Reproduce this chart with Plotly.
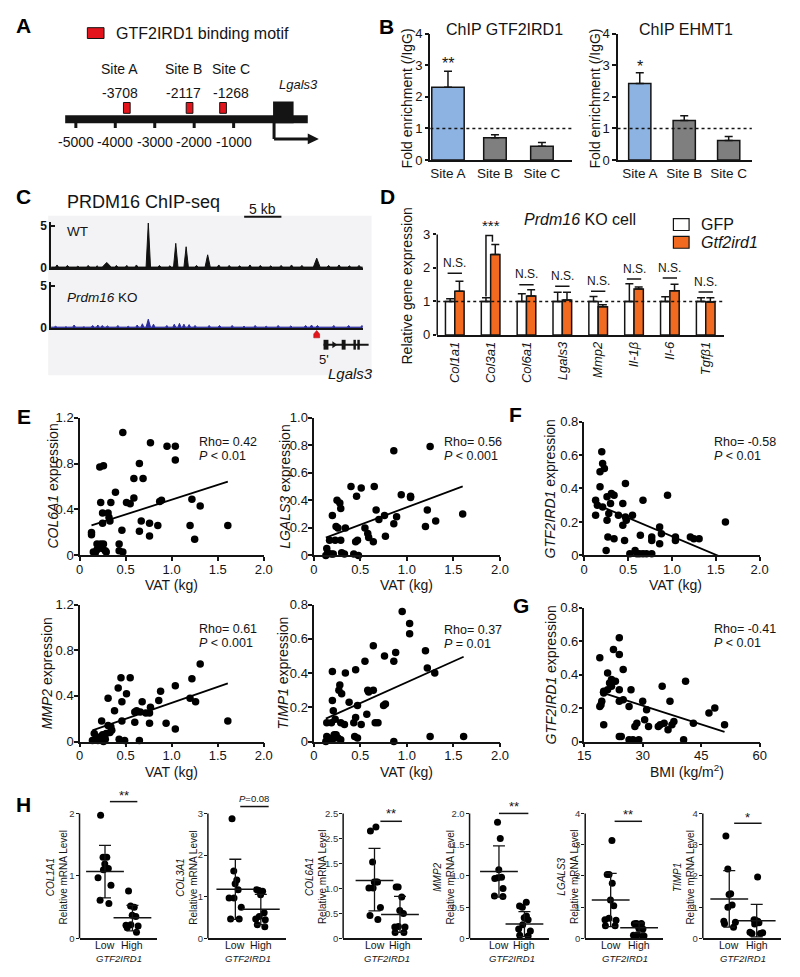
import copy
import numpy as np
import plotly.graph_objects as go

W, H = 800, 977
FONT = "Arial, Liberation Sans, sans-serif"
INK = "#141414"
RED = "#e3141c"
ORANGE = "#f26a1f"
BLUE_BAR = "#8db3e2"
GRAY_BAR = "#7f7f7f"
TRACK_BLUE = "#2c2ca0"

# ======================= DATA =======================
# A: Lgals3 promoter map
promoter_ticks = [-5000, -4000, -3000, -2000, -1000]
site_labels = ["Site A", "Site B", "Site C"]
site_positions = [-3708, -2117, -1268]

# B: ChIP-qPCR
chip_sites = ["Site A", "Site B", "Site C"]
gtf2ird1_chip = [2.30, 0.71, 0.44]
gtf2ird1_chip_err = [0.51, 0.09, 0.12]
ehmt1_chip = [2.42, 1.25, 0.62]
ehmt1_chip_err = [0.34, 0.15, 0.13]

# C: PRDM16 ChIP-seq tracks (peak centre kb, height, half width kb)
wt_peak_kb = [0.8, 2.2, 3.6, 5.0, 6.2, 7.5, 8.8, 10.2, 11.5, 13.1, 14.6, 16.0, 16.8, 18.2, 19.6,
              21.1, 22.6, 24.0, 25.4, 26.8, 28.2, 29.6, 31.0, 32.4, 33.8, 35.8, 37.4, 38.8, 40.2, 41.5]
wt_peak_h = [0.35, 0.3, 0.2, 0.3, 0.25, 0.65, 0.3, 0.3, 0.35, 5.3, 0.3, 0.25, 2.9, 2.5, 0.3,
             1.55, 0.35, 0.3, 0.25, 0.35, 0.3, 0.25, 0.3, 0.35, 0.3, 1.15, 0.3, 0.35, 0.25, 0.3]
wt_peak_w = [0.2, 0.2, 0.2, 0.2, 0.2, 0.6, 0.2, 0.2, 0.2, 0.3, 0.2, 0.2, 0.3, 0.3, 0.2,
             0.35, 0.2, 0.2, 0.2, 0.2, 0.2, 0.2, 0.2, 0.2, 0.2, 0.45, 0.2, 0.2, 0.2, 0.2]
ko_peak_kb = [0.6, 2.0, 3.1, 4.4, 5.6, 6.3, 6.9, 7.6, 9.0, 10.4, 11.6, 12.3, 13.1, 13.8, 15.6, 16.6,
              17.3, 17.9, 18.6, 19.4, 21.3, 22.7, 24.4, 26.0, 27.5, 29.0, 30.6, 32.3, 34.3, 35.1,
              35.9, 38.1, 40.1, 41.9]
ko_peak_h = [0.2, 0.15, 0.35, 0.15, 0.3, 0.35, 0.3, 0.25, 0.3, 0.2, 0.35, 0.5, 1.05, 0.45, 0.3, 0.45,
             0.55, 0.45, 0.4, 0.3, 0.3, 0.3, 0.3, 0.2, 0.3, 0.2, 0.3, 0.25, 0.3, 0.35,
             0.3, 0.3, 0.3, 0.3]
ko_peak_w = [0.2] * 12 + [0.3] + [0.2] * 21
track_kb = 42

# D: Prdm16 KO cells
genes_d = ["Col1a1", "Col3a1", "Col6a1", "Lgals3", "Mmp2", "Il-1β", "Il-6", "Tgfβ1"]
gfp_expr = [1.0, 1.0, 1.0, 1.0, 1.0, 1.0, 1.0, 1.0]
gfp_err = [0.08, 0.11, 0.23, 0.27, 0.15, 0.53, 0.14, 0.11]
gtf_expr = [1.30, 2.40, 1.16, 1.04, 0.84, 1.37, 1.32, 0.98]
gtf_err = [0.30, 0.30, 0.19, 0.23, 0.06, 0.06, 0.19, 0.13]
ns_level = [1.84, None, 1.50, 1.45, 1.30, 1.67, 1.70, 1.28]

# E: expression vs VAT
col6a1_vat = [0.47, 0.77, 0.95, 1.04, 1.04, 0.65, 0.22, 0.26, 0.59, 0.69, 0.39, 0.59, 0.51, 0.55, 0.87,
              0.89, 1.22, 1.31, 0.23, 0.34, 0.25, 0.31, 0.32, 0.33, 0.25, 0.67, 0.76, 0.85, 1.20, 1.61,
              0.46, 0.65, 0.76, 1.25, 0.13, 0.13, 0.19, 0.23, 0.26, 0.43, 0.15, 0.19, 0.22, 0.25, 0.28,
              0.29, 0.43, 0.47, 0.17]
col6a1_expr = [1.07, 0.98, 0.95, 0.95, 0.83, 0.80, 0.77, 0.78, 0.67, 0.67, 0.55, 0.50, 0.46, 0.45, 0.47,
               0.48, 0.49, 0.43, 0.46, 0.46, 0.37, 0.37, 0.33, 0.30, 0.28, 0.30, 0.28, 0.26, 0.26, 0.26,
               0.22, 0.21, 0.17, 0.14, 0.20, 0.18, 0.10, 0.10, 0.10, 0.10, 0.03, 0.05, 0.07, 0.06, 0.04,
               0.03, 0.04, 0.03, 0.02]
lgals3_vat = [0.86, 1.25, 0.40, 0.51, 0.65, 0.46, 0.94, 1.04, 1.04, 0.25, 0.28, 0.29, 0.20, 0.67, 1.22,
              1.60, 0.76, 0.89, 0.70, 0.86, 1.31, 1.20, 0.24, 0.26, 0.34, 0.55, 0.58, 0.59, 0.77, 0.64,
              0.17, 0.23, 0.29, 0.45, 0.47, 0.14, 0.15, 0.19, 0.21, 0.30, 0.33, 0.43, 0.48, 0.13]
lgals3_expr = [0.76, 0.79, 0.50, 0.49, 0.50, 0.43, 0.44, 0.43, 0.42, 0.40, 0.38, 0.34, 0.29, 0.33, 0.33,
               0.30, 0.29, 0.28, 0.26, 0.23, 0.25, 0.21, 0.21, 0.20, 0.20, 0.20, 0.16, 0.13, 0.14, 0.10,
               0.11, 0.11, 0.11, 0.10, 0.11, 0.05, 0.02, 0.01, 0.01, 0.02, 0.01, 0.01, 0.00, 0.00]
mmp2_vat = [1.31, 0.45, 0.55, 1.22, 1.04, 0.42, 0.51, 0.88, 0.31, 0.46, 0.68, 0.86, 1.20, 1.26, 0.38,
            0.60, 0.62, 0.66, 0.72, 0.76, 0.77, 0.46, 0.60, 0.76, 0.94, 1.61, 1.04, 0.24, 0.31, 0.34,
            0.35, 0.33, 0.29, 0.25, 0.16, 0.22, 0.19, 0.14, 0.20, 0.27, 0.28, 0.43, 0.49, 0.65, 0.26, 0.23]
mmp2_expr = [0.68, 0.56, 0.56, 0.55, 0.49, 0.47, 0.42, 0.44, 0.38, 0.35, 0.35, 0.36, 0.38, 0.35, 0.27,
             0.26, 0.27, 0.26, 0.25, 0.25, 0.30, 0.18, 0.17, 0.16, 0.16, 0.18, 0.11, 0.18, 0.14, 0.13,
             0.10, 0.08, 0.07, 0.06, 0.07, 0.04, 0.02, 0.01, 0.01, 0.01, 0.02, 0.02, 0.01, 0.01, 0.00, 0.03]
timp1_vat = [0.95, 1.03, 1.03, 0.64, 1.20, 0.88, 0.76, 0.55, 0.86, 1.22, 1.30, 0.20, 0.34, 0.45, 0.28,
             0.27, 0.30, 0.58, 0.59, 0.64, 0.20, 0.21, 0.38, 0.47, 0.75, 0.77, 0.57, 0.45, 0.23, 0.14,
             0.19, 0.29, 0.33, 0.43, 0.51, 0.66, 0.69, 0.14, 0.16, 0.22, 0.24, 0.26, 0.29, 0.13, 0.20,
             0.44, 0.47, 0.86, 1.25, 1.61]
timp1_expr = [0.76, 0.69, 0.63, 0.56, 0.53, 0.52, 0.50, 0.47, 0.47, 0.43, 0.40, 0.41, 0.40, 0.42, 0.33,
              0.30, 0.28, 0.30, 0.29, 0.30, 0.24, 0.18, 0.23, 0.21, 0.21, 0.22, 0.16, 0.14, 0.13, 0.11,
              0.11, 0.11, 0.10, 0.11, 0.10, 0.11, 0.11, 0.03, 0.02, 0.04, 0.04, 0.02, 0.01, 0.00, 0.01,
              0.03, 0.02, 0.00, 0.03, 0.03]
# F: GTF2IRD1 vs VAT, G: GTF2IRD1 vs BMI
gtf_vat = [0.20, 0.21, 0.23, 0.18, 0.18, 0.47, 0.13, 0.15, 0.21, 0.26, 0.31, 0.34, 0.30, 0.28, 0.39,
           0.44, 0.47, 0.55, 0.67, 0.95, 0.13, 0.26, 0.48, 0.44, 0.27, 0.34, 0.46, 0.25, 0.64, 0.77,
           0.77, 0.86, 0.88, 0.86, 1.04, 1.04, 1.21, 1.25, 1.31, 1.61, 0.52, 0.58, 0.60, 0.63, 0.67,
           0.71, 0.77]
gtf_vat_expr = [0.62, 0.55, 0.52, 0.50, 0.41, 0.43, 0.33, 0.30, 0.29, 0.35, 0.37, 0.36, 0.31, 0.25, 0.24,
                0.31, 0.23, 0.24, 0.33, 0.36, 0.24, 0.21, 0.21, 0.18, 0.11, 0.10, 0.09, 0.03, 0.12, 0.11,
                0.09, 0.17, 0.13, 0.07, 0.11, 0.09, 0.11, 0.10, 0.10, 0.20, 0.01, 0.03, 0.01, 0.01, 0.01,
                0.01, 0.01]
gtf_bmi = [19, 24, 22.5, 24, 25, 21, 22, 23, 21.5, 22, 21, 20, 24, 20, 19.5, 19, 19.3, 24, 25, 27,
           26.5, 30, 31, 35, 37, 41, 20, 28, 28.5, 30.5, 31.5, 34, 34.5, 35.5, 36.5, 37.5, 38, 43,
           47, 48.5, 51, 24, 24.5, 26.5, 27.5, 29, 40.5]
gtf_bmi_expr = [0.50, 0.62, 0.55, 0.52, 0.43, 0.41, 0.37, 0.36, 0.35, 0.33, 0.31, 0.30, 0.31, 0.29, 0.24,
                0.21, 0.22, 0.24, 0.25, 0.31, 0.21, 0.24, 0.19, 0.33, 0.24, 0.36, 0.10, 0.09, 0.11, 0.13,
                0.09, 0.09, 0.10, 0.11, 0.07, 0.10, 0.12, 0.11, 0.17, 0.20, 0.10, 0.03, 0.03, 0.01, 0.01,
                0.01, 0.01]

# H: patient groups, GTF2IRD1 low vs high
h_genes = ["COL1A1", "COL3A1", "COL6A1", "MMP2", "LGALS3", "TIMP1"]
h_low = [
    [1.97, 1.30, 1.30, 1.19, 1.12, 1.10, 0.97, 0.85, 0.61, 0.56],
    [2.87, 1.62, 1.40, 1.31, 1.17, 0.97, 0.97, 0.75, 0.47, 0.47],
    [2.23, 2.15, 1.53, 1.13, 1.13, 1.13, 1.01, 1.01, 0.62, 0.46, 0.38],
    [1.86, 1.60, 1.10, 0.98, 0.97, 0.96, 0.80, 0.68, 0.67],
    [3.13, 2.05, 2.05, 1.77, 1.23, 1.05, 0.65, 0.60, 0.58, 0.41, 0.41],
    [3.28, 2.22, 1.43, 1.41, 1.07, 1.00, 0.55, 0.52, 0.47, 0.36],
]
h_high = [
    [0.76, 0.52, 0.50, 0.37, 0.35, 0.22, 0.21, 0.20, 0.17, 0.10],
    [1.17, 1.15, 1.13, 1.05, 0.62, 0.53, 0.47, 0.45, 0.33, 0.28],
    [1.03, 1.03, 0.83, 0.56, 0.50, 0.24, 0.23, 0.23, 0.12, 0.12],
    [0.58, 0.52, 0.50, 0.36, 0.33, 0.30, 0.22, 0.15, 0.12, 0.05, 0.04],
    [0.48, 0.48, 0.47, 0.46, 0.45, 0.33, 0.30, 0.12, 0.10, 0.08, 0.08, 0.07],
    [1.97, 0.60, 0.58, 0.55, 0.52, 0.50, 0.46, 0.20, 0.18, 0.16, 0.16],
]
h_mean = [[1.07, 0.33], [1.18, 0.70], [1.16, 0.48], [1.07, 0.23], [1.23, 0.34], [1.26, 0.57]]
h_sd_lo = [[0.65, 0.12], [0.46, 0.33], [0.55, 0.12], [0.66, 0.03], [0.38, 0.18], [0.36, 0.05]]
h_sd_hi = [[1.49, 0.53], [1.90, 1.06], [1.80, 0.84], [1.48, 0.43], [2.08, 0.50], [2.17, 1.09]]
h_ymax = [2, 3, 2.5, 2.0, 4, 4]
h_ticks = [[0, 1, 2], [0, 1, 2, 3], [0, 0.5, 1.0, 1.5, 2.0, 2.5], [0, 0.5, 1.0, 1.5, 2.0],
           [0, 1, 2, 3, 4], [0, 1, 2, 3, 4]]
h_ticktext = [["0", "1", "2"], ["0", "1", "2", "3"], ["0", "0.5", "1.0", "1.5", "2.5", "2.5"],
              ["0", "0.5", "1.0", "1.5", "2.0"], ["0", "1", "2", "3", "4"], ["0", "1", "2", "3", "4"]]
h_sig = ["**", "<i>P</i>=0.08", "**", "**", "**", "*"]

# ======================= HELPERS =======================
fig = go.Figure()
_n = [0]
BASE_AX = dict(showgrid=False, zeroline=False, showline=True, linecolor=INK, linewidth=1.5,
               ticks="outside", ticklen=3.5, tickwidth=1.5, tickcolor=INK,
               tickfont=dict(size=13, color=INK, family=FONT), fixedrange=True)


def axes(x0, x1, ytop, ybot, xr, yr, xkw=None, ykw=None):
    _n[0] += 1
    s = "" if _n[0] == 1 else str(_n[0])
    xk = copy.deepcopy(BASE_AX)
    xk.update(domain=[x0 / W, x1 / W], range=xr, anchor="y" + s)
    yk = copy.deepcopy(BASE_AX)
    yk.update(domain=[1 - ybot / H, 1 - ytop / H], range=yr, anchor="x" + s)
    if xkw:
        xk.update(xkw)
    if ykw:
        yk.update(ykw)
    fig.update_layout({"xaxis" + s: xk, "yaxis" + s: yk})
    return "x" + s, "y" + s


def T(x, y, text, size=13, xa="center", ya="middle", angle=0, xref="paper", yref="paper",
      color=INK, bold=False, xshift=0):
    fig.add_annotation(x=x / W if xref == "paper" else x, y=1 - y / H if yref == "paper" else y,
                       xref=xref, yref=yref, text=text, showarrow=False, textangle=angle,
                       font=dict(size=size, color=color, family=FONT,
                                 weight="bold" if bold else "normal"),
                       xanchor=xa, yanchor=ya, borderpad=0, xshift=xshift)


def prect(x0, y0, x1, y1, fill, lw=0, lc=INK, xref="paper", layer="above"):
    fig.add_shape(type="rect", xref=xref, yref="paper",
                  x0=x0 / W if xref == "paper" else x0, x1=x1 / W if xref == "paper" else x1,
                  y0=1 - y0 / H, y1=1 - y1 / H, fillcolor=fill,
                  line=dict(width=lw, color=lc), layer=layer)


def pline(x0, y0, x1, y1, w=1.5, color=INK, xref="paper", dash=None):
    fig.add_shape(type="line", xref=xref, yref="paper",
                  x0=x0 / W if xref == "paper" else x0, x1=x1 / W if xref == "paper" else x1,
                  y0=1 - y0 / H, y1=1 - y1 / H, line=dict(width=w, color=color, dash=dash),
                  layer="above")


# ======================= PANEL LETTERS =======================
for L, lx, ly in [("A", 17, 19), ("B", 387, 20), ("C", 17, 192), ("D", 388, 192), ("E", 17, 416),
                  ("F", 519, 414), ("G", 524, 608), ("H", 17, 810)]:
    T(lx, ly, L, size=21, bold=True, color="#000000")

# ======================= A =======================
TSS_PX, PX_PER_BP = 271.5, 0.04025
xA, yA = axes(40, 340, 40, 150, [(40 - TSS_PX) / PX_PER_BP, (340 - TSS_PX) / PX_PER_BP], [0, 1],
              xkw=dict(visible=False), ykw=dict(visible=False))
prect(82, 21, 99, 32, RED, lw=1)
T(110, 27, "GTF2IRD1 binding motif", size=16, xa="left")
prect(-5270, 110, 880, 118, INK, xref=xA)
for t in promoter_ticks:
    pline(t, 117, t, 123, w=3, xref=xA)
    T(t, 137, str(t), size=14, xref=xA)
site_label_shift = [-7, -6, 8]
for name, pos, sh in zip(site_labels, site_positions, site_label_shift):
    prect(pos - 85, 97, pos + 85, 108, RED, lw=1, xref=xA)
    T(pos, 63, name, size=14, xref=xA, xshift=sh)
    T(pos, 87, str(pos), size=14, xref=xA, xshift=sh)
prect(0, 96, 520, 118, INK, xref=xA)
pline(25, 117, 25, 134, w=3, xref=xA)
pline(25, 134, 950, 134, w=3, xref=xA)
fig.add_shape(type="path", xref=xA, yref="paper",
              path=f"M 880,{1 - 128.5 / H} L 1160,{1 - 134 / H} L 880,{1 - 139.5 / H} Z",
              fillcolor=INK, line=dict(width=0), layer="above")
T(297, 79, "<i>Lgals3</i>", size=13)

# ======================= B =======================
b_specs = [
    (432, 577, [-0.375, 2.65], gtf2ird1_chip, gtf2ird1_chip_err, [0.69, 0.48, 0.48],
     "ChIP GTF2IRD1", 508, 408, "**", 57),
    (623, 760, [-0.5, 2.52], ehmt1_chip, ehmt1_chip_err, [0.5, 0.5, 0.5],
     "ChIP EHMT1", 693, 600, "*", 60),
]
for x0, x1, xr, vals, errs, widths, title, tx, ytx, star, sy in b_specs:
    xa, ya = axes(x0, x1, 27, 155.5, xr, [0, 4],
                  xkw=dict(tickvals=[0, 1, 2], ticktext=chip_sites, ticks="",
                           tickfont=dict(size=13.5, color=INK, family=FONT)),
                  ykw=dict(tickvals=[0, 1, 2, 3, 4]))
    fig.add_trace(go.Bar(x=[0, 1, 2], y=vals, width=widths, xaxis=xa, yaxis=ya,
                         marker=dict(color=[BLUE_BAR, GRAY_BAR, GRAY_BAR], line=dict(color=INK, width=1.5)),
                         error_y=dict(type="data", symmetric=False, array=errs, arrayminus=[0, 0, 0],
                                      color=INK, thickness=1.5, width=4)))
    fig.add_shape(type="line", xref=xa + " domain", yref=ya, x0=0, x1=1, y0=1, y1=1,
                  line=dict(color=INK, width=1.5, dash="dot"), layer="above")
    T(tx, 23, title, size=16)
    T(ytx, 93, "Fold enrichment (/IgG)", size=14, angle=-90)
    T(0, sy, star, size=16, xref=xa)

# ======================= C =======================
prect(42, 212, 372, 374, "#f3f3f5", layer="below")
T(60, 198, "PRDM16 ChIP-seq", size=18, xa="left")
pline(242, 213, 280, 213, w=2)
T(261, 205, "5 kb", size=14)


def track_xy(centers, heights, halfw, base):
    xs, ys = [0], [base]
    for c, h, w in sorted(zip(centers, heights, halfw)):
        xs += [c - w, c, c + w]
        ys += [base, h, base]
    xs.append(track_kb)
    ys.append(base)
    return xs, ys


PXU = 8.6
for ybase, centers, hts, wds, col, label in [
    (265, wt_peak_kb, wt_peak_h, wt_peak_w, "#111111", "WT"),
    (326, ko_peak_kb, ko_peak_h, ko_peak_w, TRACK_BLUE, "<i>Prdm16</i> KO"),
]:
    xa, ya = axes(45, 363, ybase - 5.4 * PXU, ybase, [0, track_kb], [0, 5.4],
                  xkw=dict(showticklabels=False, ticks="", linewidth=2.2),
                  ykw=dict(ticks="inside", tickvals=[0, 5], ticktext=["<b>0</b>", "<b>5</b>"],
                           ticklen=4, tickfont=dict(size=12, color=INK, family=FONT)))
    xs, ys = track_xy(centers, hts, wds, 0.1)
    fig.add_trace(go.Scatter(x=xs, y=ys, xaxis=xa, yaxis=ya, mode="lines", fill="tozeroy",
                             line=dict(color=col, width=1), fillcolor=col, hoverinfo="skip"))
    T(60, ybase - 37 if label == "WT" else ybase - 31, label, size=13.5, xa="left")

# gene model
fig.add_shape(type="path", xref="paper", yref="paper",
              path=(f"M {313/W},{1-336/H} L {313/W},{1-332/H} L {316/W},{1-328.5/H} "
                    f"L {319/W},{1-332/H} L {319/W},{1-336/H} Z"),
              fillcolor=RED, line=dict(width=0.5, color="#a00000"), layer="above")
pline(323, 343, 369, 343, w=2)
prect(323, 338, 328, 348, INK)
fig.add_shape(type="path", xref="paper", yref="paper",
              path=f"M {332/W},{1-339.5/H} L {337/W},{1-343/H} L {332/W},{1-346.5/H} Z",
              fillcolor=INK, line=dict(width=0), layer="above")
prect(341.5, 338, 345.5, 348, INK)
prect(353.5, 338, 356, 348, INK)
prect(357.5, 338, 360, 348, INK)
T(323, 358, "5'", size=13)
T(350, 372, "<i>Lgals3</i>", size=15)

# ======================= D =======================
D_TOP = 3 * (333 - 200) / (333 - 231)
xD, yD = axes(439, 732, 200, 333, [-0.49, 7.52], [0, D_TOP],
              xkw=dict(tickvals=list(range(8)), ticktext=[f"<i>{g}</i>" for g in genes_d],
                       tickangle=-90, ticks=""),
              ykw=dict(showline=False, tickvals=[0, 1, 2, 3]))
fig.add_shape(type="line", xref=xD + " domain", yref=yD, x0=0, x1=0, y0=0, y1=3,
              line=dict(color=INK, width=1.5), layer="above")
xs_d = list(range(8))
fig.add_trace(go.Bar(x=xs_d, y=gfp_expr, xaxis=xD, yaxis=yD, name="GFP",
                     marker=dict(color="white", line=dict(color=INK, width=1.5)),
                     error_y=dict(type="data", symmetric=False, array=gfp_err, arrayminus=[0] * 8,
                                  color=INK, thickness=1.5, width=4)))
fig.add_trace(go.Bar(x=xs_d, y=gtf_expr, xaxis=xD, yaxis=yD, name="Gtf2ird1",
                     marker=dict(color=ORANGE, line=dict(color=INK, width=1.5)),
                     error_y=dict(type="data", symmetric=False, array=gtf_err, arrayminus=[0] * 8,
                                  color=INK, thickness=1.5, width=4)))
fig.add_shape(type="line", xref=xD + " domain", yref=yD, x0=0, x1=1, y0=1, y1=1,
              line=dict(color=INK, width=1.5, dash="dot"), layer="above")
for i, lev in enumerate(ns_level):
    if lev is None:
        continue
    fig.add_shape(type="line", xref=xD, yref=yD, x0=i - 0.2, x1=i + 0.2, y0=lev, y1=lev,
                  line=dict(color=INK, width=1.5), layer="above")
    T(i, lev + 0.31, "N.S.", size=12, xref=xD, yref=yD)
# Col3a1 significance bracket
i3 = 1
top3 = gtf_expr[i3] + gtf_err[i3] + 0.27
fig.add_shape(type="path", xref=xD, yref=yD,
              path=(f"M {i3-0.13},{gfp_expr[i3]+gfp_err[i3]+0.04} L {i3-0.13},{top3} "
                    f"L {i3+0.05},{top3} L {i3+0.05},{gtf_expr[i3]+gtf_err[i3]+0.08}"),
              line=dict(color=INK, width=1.5), layer="above")
T(i3, top3 + 0.3, "***", size=15, xref=xD, yref=yD)
T(585, 216, "<i>Prdm16</i> KO cell", size=16)
prect(680, 215, 696, 227, "white", lw=1.2)
prect(680, 233, 696, 245, ORANGE, lw=1.2)
T(707, 221, "GFP", size=16, xa="left")
T(707, 239, "<i>Gtf2ird1</i>", size=16, xa="left")
T(408, 283, "Relative gene expression", size=14, angle=-90)

# ======================= E / F / G =======================
scatter_specs = [
    (74, 262, 417, 557, [0, 2], 1.2, [0, 0.4, 0.8, 1.2], col6a1_vat, col6a1_expr,
     "<i>COL6A1</i> expression", 46, "Rho= 0.42", "<i>P</i> < 0.01", 195, 442, "VAT (kg)", 168, 587),
    (313, 503, 417, 557, [0, 2], 1.0, [0, 0.2, 0.4, 0.6, 0.8, 1.0], lgals3_vat, lgals3_expr,
     "<i>LGALS3</i> expression", 283, "Rho= 0.56", "<i>P</i> < 0.001", 445, 442, "VAT (kg)", 408, 587),
    (74, 262, 607, 746, [0, 2], 1.2, [0, 0.4, 0.8, 1.2], mmp2_vat, mmp2_expr,
     "<i>MMP2</i> expression", 41, "Rho= 0.61", "<i>P</i> < 0.001", 195, 632, "VAT (kg)", 168, 777),
    (313, 503, 607, 746, [0, 2], 0.8, [0, 0.2, 0.4, 0.6, 0.8], timp1_vat, timp1_expr,
     "<i>TIMP1</i> expression", 282, "Rho= 0.37", "<i>P</i> = 0.01", 445, 633, "VAT (kg)", 408, 777),
    (589, 768, 421, 557, [0, 2], 0.8, [0, 0.2, 0.4, 0.6, 0.8], gtf_vat, gtf_vat_expr,
     "<i>GTF2IRD1</i> expression", 555, "Rho= -0.58", "<i>P</i> < 0.01", 720, 442, "VAT (kg)", 682, 587),
    (589, 768, 610, 746, [15, 60], 0.8, [0, 0.2, 0.4, 0.6, 0.8], gtf_bmi, gtf_bmi_expr,
     "<i>GTF2IRD1</i> expression", 555, "Rho= -0.41", "<i>P</i> < 0.01", 720, 632,
     "BMI (kg/m<sup>2</sup>)", 694, 776),
]
for (x0, x1, yt, yb, xr, ymax, yticks, xv, yv, ytitle, ytx, rho, pv, rx, ry, xtitle, xtx, xty) in scatter_specs:
    if xr[1] == 60:
        xtv, xtt = [15, 30, 45, 60], ["15", "30", "45", "60"]
    else:
        xtv, xtt = [0, 0.5, 1, 1.5, 2], ["0", "0.5", "1.0", "1.5", "2.0"]
    ytt = ["0"] + [f"{v:.1f}" for v in yticks[1:]]
    xa, ya = axes(x0, x1, yt, yb, xr, [0, ymax],
                  xkw=dict(tickvals=xtv, ticktext=xtt, ticklabelstandoff=-2),
                  ykw=dict(tickvals=yticks, ticktext=ytt, ticklabelstandoff=-2))
    fig.add_trace(go.Scatter(x=xv, y=yv, xaxis=xa, yaxis=ya, mode="markers", cliponaxis=False,
                             marker=dict(size=7.5, color="#000000"), hoverinfo="skip"))
    k, b = np.polyfit(xv, yv, 1)
    lx = [min(xv), max(xv)]
    fig.add_trace(go.Scatter(x=lx, y=[k * v + b for v in lx], xaxis=xa, yaxis=ya, mode="lines",
                             line=dict(color="#000000", width=1.8), hoverinfo="skip"))
    T(ytx, (yt + yb) / 2, ytitle, size=14, angle=-90)
    T(xtx, xty, xtitle, size=14)
    T(rx, ry, rho, size=12.5, xa="left")
    T(rx, ry + 14, pv, size=12.5, xa="left")

# ======================= H =======================
h_px = [(74, 153, 100, 128), (205, 285, 233, 259), (343, 423, 375, 401),
        (472, 553, 502, 528), (590, 669, 616, 645), (710, 790, 737, 765)]
h_sig_px = [(105, 133, 807, 801), (238, 267, 812, 804), (381, 403, 827, 819),
            (502, 532, 819, 812), (620, 648, 827, 820), (742, 770, 829, 823)]
h_title_x = [51, 184, 316, 446, 573, 691]
H_ZERO, H_TOPV, H_DOM_TOP = 946, 819, 795
HTICK = "#333333"
for i in range(6):
    x0, x1, plow, phigh = h_px[i]
    sp = phigh - plow
    xr = [-(plow - x0) / sp, 1 + (x1 - phigh) / sp]
    ytop_val = h_ymax[i] * (H_ZERO - H_DOM_TOP) / (H_ZERO - H_TOPV)
    xa, ya = axes(x0, x1, H_DOM_TOP, H_ZERO, xr, [0, ytop_val],
                  xkw=dict(showticklabels=False, ticks="", linewidth=1.5),
                  ykw=dict(showline=False, tickvals=h_ticks[i], ticktext=h_ticktext[i], ticklen=3,
                           tickwidth=1, tickfont=dict(size=9.5, color=HTICK, family=FONT),
                           ticklabelstandoff=-1))
    fig.add_shape(type="line", xref=xa + " domain", yref=ya, x0=0, x1=0, y0=0, y1=h_ymax[i],
                  line=dict(color=INK, width=1.5), layer="above")
    for gx, vals in [(0, h_low[i]), (1, h_high[i])]:
        fig.add_trace(go.Box(x=[gx] * len(vals), y=vals, xaxis=xa, yaxis=ya, boxpoints="all",
                             jitter=0.75, pointpos=0, width=0.8, whiskerwidth=0,
                             fillcolor="rgba(0,0,0,0)", line=dict(width=0, color="rgba(0,0,0,0)"),
                             marker=dict(size=7, color="#000000"), hoverinfo="skip"))
    m = h_mean[i]
    fig.add_trace(go.Scatter(x=[0, 1], y=m, xaxis=xa, yaxis=ya, mode="markers", cliponaxis=False,
                             marker=dict(symbol="line-ew", size=27, line=dict(width=1.5, color=INK)),
                             error_y=dict(type="data", symmetric=False,
                                          array=[h_sd_hi[i][j] - m[j] for j in range(2)],
                                          arrayminus=[m[j] - h_sd_lo[i][j] for j in range(2)],
                                          color=INK, thickness=1.3, width=6),
                             hoverinfo="skip"))
    T(0, 953, "Low", size=10.5, xref=xa)
    T(1, 953, "High", size=10.5, xref=xa)
    T(0.5, 966, "<i>GTF2IRD1</i>", size=9.5, xref=xa)
    T(h_title_x[i], 884, f"<i>{h_genes[i]}</i><br>Relative mRNA Level", size=10, angle=-90)
    sx0, sx1, sly, sty = h_sig_px[i]
    pline(sx0, sly, sx1, sly, w=1.5)
    T((sx0 + sx1) / 2, sty, h_sig[i], size=13 if "*" in h_sig[i] else 9.5)

fig.update_layout(width=W, height=H, margin=dict(l=0, r=0, t=0, b=0, pad=0), showlegend=False,
                  plot_bgcolor="rgba(0,0,0,0)", paper_bgcolor="white",
                  barmode="group", bargap=0.48, bargroupgap=0,
                  font=dict(family=FONT, color=INK))
fig.write_html("out.html", config={"displayModeBar": False},
               post_script="document.body.style.margin='0';document.body.style.overflow='hidden';")
